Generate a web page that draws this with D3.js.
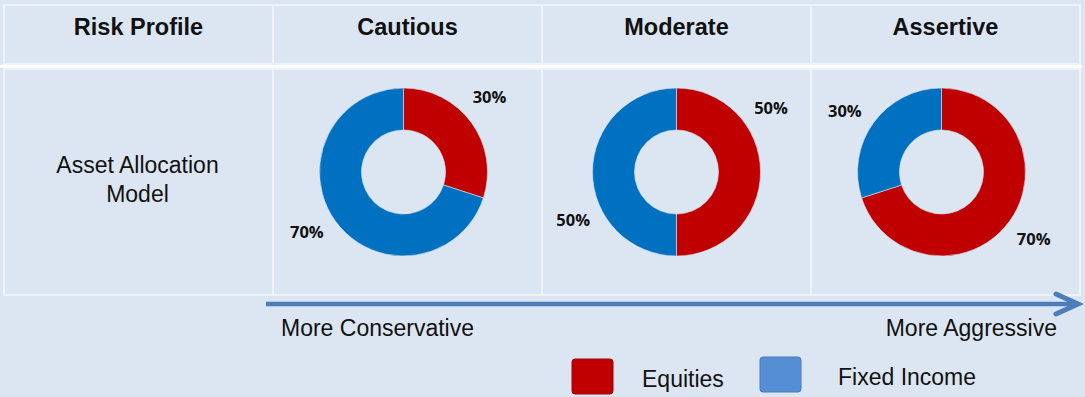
<!DOCTYPE html>
<html>
<head>
<meta charset="utf-8">
<script src="https://d3js.org/d3.v7.min.js"></script>
<style>
  body { margin: 0; background: #dce6f2; }
  svg { display: block; }
  text { font-family: "Liberation Sans", Arial, sans-serif; fill: #111; }
</style>
</head>
<body>
<div id="chart"></div>
<script>
// Risk profiles - asset allocation donuts

// * Data
var rowLabel = "Risk Profile";
var modelLabel = ["Asset Allocation", "Model"];
var profiles = ["Cautious", "Moderate", "Assertive"];
var assetClasses = ["Equities", "Fixed Income"];
var equities = [30, 50, 70];
var fixedIncome = [70, 50, 30];
var axisLabels = ["More Conservative", "More Aggressive"];

// label placement (degrees clockwise from 12 o'clock), one pair per donut
var labelAngles = [[49, 238], [56, 245], [126, 302]];

var width = 1085,
    height = 397;

var svg = d3.select("#chart").append("svg")
    .attr("width", width)
    .attr("height", height);

svg.append("rect")
    .attr("width", width)
    .attr("height", height)
    .attr("fill", "#dce6f2");

// * Table layout
var tableLeft = 4, tableRight = 1080;
var headTop = 5, headBottom = 64, bodyTop = 69, bodyBottom = 295;

var colX = d3.scaleBand()
    .domain([rowLabel].concat(profiles))
    .range([tableLeft, tableRight]);

// cells
var cols = colX.domain();
cols.forEach(function(c) {
    svg.append("rect")
        .attr("x", colX(c))
        .attr("y", headTop)
        .attr("width", colX.bandwidth())
        .attr("height", headBottom - headTop)
        .attr("fill", "#dce6f2")
        .attr("stroke", "#eef3f9")
        .attr("stroke-width", 2);
    svg.append("rect")
        .attr("x", colX(c))
        .attr("y", bodyTop)
        .attr("width", colX.bandwidth())
        .attr("height", bodyBottom - bodyTop)
        .attr("fill", "#dce6f2")
        .attr("stroke", "#eef3f9")
        .attr("stroke-width", 2);
});

// white band between header and body
svg.append("rect")
    .attr("x", 0)
    .attr("y", headBottom + 1)
    .attr("width", tableRight + 2)
    .attr("height", bodyTop - headBottom - 2)
    .attr("fill", "#ffffff");

// header texts
svg.selectAll(".head")
    .data(cols)
    .enter()
    .append("text")
    .attr("class", "head")
    .attr("x", function(d) { return colX(d) + colX.bandwidth() / 2; })
    .attr("y", 35)
    .attr("text-anchor", "middle")
    .style("font-size", "23.5px")
    .style("font-weight", "bold")
    .text(function(d) { return d; });

// row label
svg.selectAll(".model")
    .data(modelLabel)
    .enter()
    .append("text")
    .attr("class", "model")
    .attr("x", colX(rowLabel) + colX.bandwidth() / 2 - 1)
    .attr("y", function(d, i) { return 173 + i * 29; })
    .attr("text-anchor", "middle")
    .style("font-size", "23px")
    .text(function(d) { return d; });

// * Donuts
var color = d3.scaleOrdinal()
    .domain(assetClasses)
    .range(["#c00000", "#0070c0"]);

var outerR = 84, innerR = 42, labelR = 114;
var cyDonut = 172;
var shiftX = [-4, 0, -4];

var pie = d3.pie()
    .sort(null)
    .value(function(d) { return d.value; });

var arc = d3.arc()
    .innerRadius(innerR)
    .outerRadius(outerR);

profiles.forEach(function(p, i) {
    var slices = [
        { key: assetClasses[0], value: equities[i] },
        { key: assetClasses[1], value: fixedIncome[i] }
    ];

    var g = svg.append("g")
        .attr("transform", "translate(" + (colX(p) + colX.bandwidth() / 2 + shiftX[i]) + "," + cyDonut + ")");

    g.selectAll("path")
        .data(pie(slices))
        .enter()
        .append("path")
        .attr("d", arc)
        .attr("fill", function(d) { return color(d.data.key); })
        .attr("stroke", "#dce6f2")
        .attr("stroke-width", 0.6);

    g.selectAll(".pct")
        .data(pie(slices))
        .enter()
        .append("text")
        .attr("class", "pct")
        .attr("x", function(d, j) { return labelR * Math.sin(labelAngles[i][j] * Math.PI / 180); })
        .attr("y", function(d, j) { return -labelR * Math.cos(labelAngles[i][j] * Math.PI / 180); })
        .attr("dy", "0.35em")
        .attr("text-anchor", "middle")
        .style("font-family", "'Open Sans', sans-serif")
        .style("font-size", "16.5px")
        .style("font-weight", "bold")
        .text(function(d) { return d.data.value + "%"; });
});

// * Arrow
var arrowY = 304;
var arrowStart = colX(profiles[0]) - 7, arrowEnd = tableRight - 2;

svg.append("line")
    .attr("x1", arrowStart)
    .attr("x2", arrowEnd - 3)
    .attr("y1", arrowY)
    .attr("y2", arrowY)
    .attr("stroke", "#4a7ebb")
    .attr("stroke-width", 4.5);

svg.append("path")
    .attr("d", d3.line()([[arrowEnd - 22, arrowY - 10], [arrowEnd, arrowY], [arrowEnd - 22, arrowY + 10]]))
    .attr("fill", "none")
    .attr("stroke", "#4a7ebb")
    .attr("stroke-width", 5)
    .attr("stroke-linecap", "round")
    .attr("stroke-linejoin", "miter");

svg.append("text")
    .attr("x", 281)
    .attr("y", 336)
    .style("font-size", "23px")
    .text(axisLabels[0]);

svg.append("text")
    .attr("x", 1057)
    .attr("y", 336)
    .attr("text-anchor", "end")
    .style("font-size", "23px")
    .text(axisLabels[1]);

// * Legend
var legendColor = d3.scaleOrdinal()
    .domain(assetClasses)
    .range(["#c00000", "#558ed5"]);

var legendX = [572, 760];
var legendY = [359, 357];
var legendTextX = [642, 838];

var legend = svg.selectAll(".legend")
    .data(assetClasses)
    .enter()
    .append("g")
    .attr("class", "legend");

legend.append("rect")
    .attr("x", function(d, i) { return legendX[i]; })
    .attr("y", function(d, i) { return legendY[i]; })
    .attr("width", 41)
    .attr("height", 35)
    .attr("rx", 3)
    .attr("fill", function(d) { return legendColor(d); })
    .attr("stroke", function(d) { return d3.color(legendColor(d)).darker(0.4); })
    .attr("stroke-width", 1);

legend.append("text")
    .attr("x", function(d, i) { return legendTextX[i]; })
    .attr("y", function(d, i) { return legendY[i] + 28; })
    .style("font-size", "23px")
    .text(function(d) { return d; });
</script>
</body>
</html>
